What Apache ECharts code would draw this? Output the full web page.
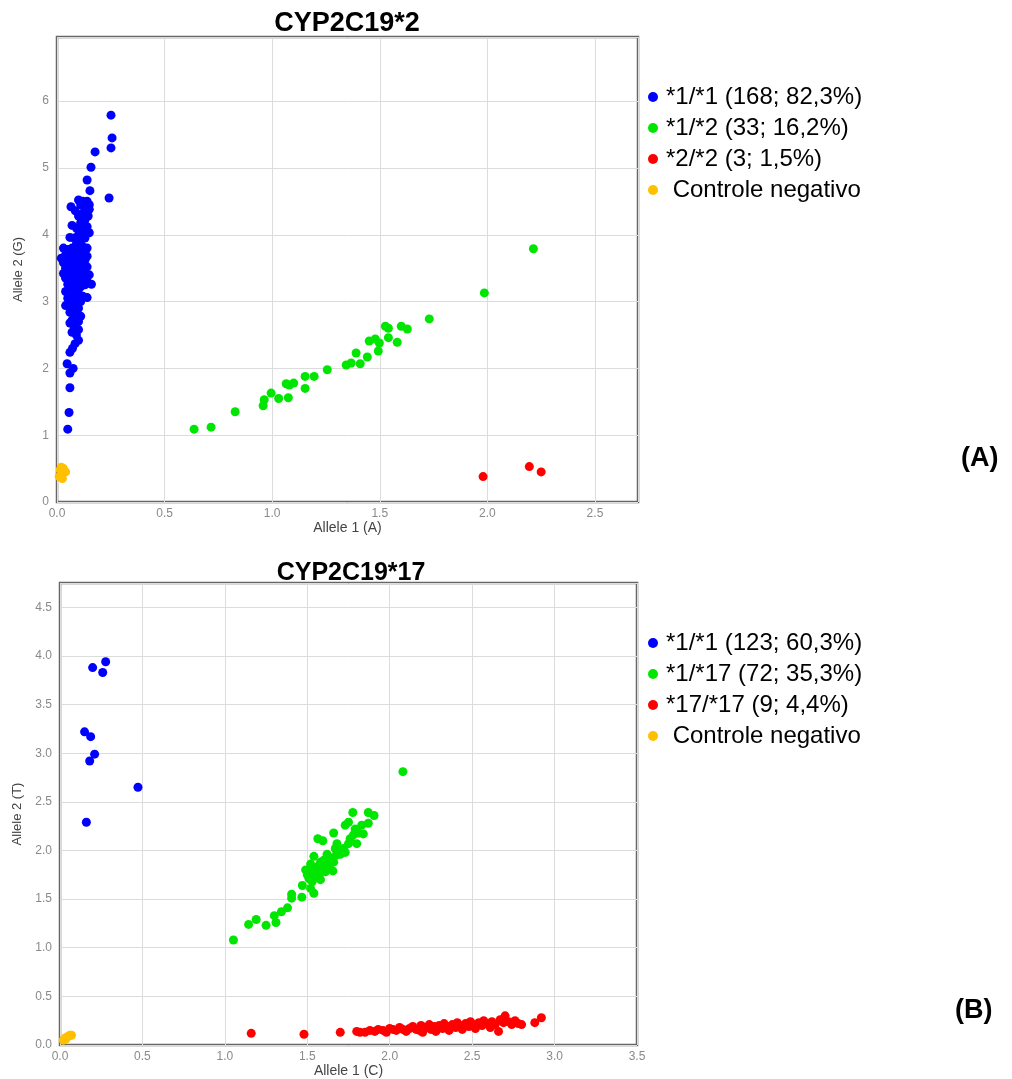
<!DOCTYPE html>
<html>
<head>
<meta charset="utf-8">
<script src="https://cdn.jsdelivr.net/npm/echarts@6/dist/echarts.min.js"></script>
<style>
  html, body { margin: 0; padding: 0; background: #fff; }
  #chart { width: 1012px; height: 1079px; }
</style>
</head>
<body>
<div id="chart"></div>
<script>
// CYP2C19*2 (A)
var namesA = ['*1/*1 (168; 82,3%)', '*1/*2 (33; 16,2%)', '*2/*2 (3; 1,5%)', ' Controle negativo'];
var blueA = [
  [0.251,5.79],[0.256,5.45],[0.251,5.30],[0.177,5.24],[0.158,5.01],[0.14,4.82],[0.153,4.66],[0.242,4.55],
  [0.10,4.52],[0.12,4.50],[0.14,4.50],[0.15,4.45],[0.11,4.45],[0.065,4.42],[0.085,4.36],[0.13,4.38],
  [0.15,4.38],[0.12,4.32],[0.145,4.28],[0.10,4.28],[0.13,4.22],[0.11,4.18],[0.07,4.14],[0.14,4.12],
  [0.09,4.10],[0.12,4.06],[0.15,4.03],[0.06,3.96],[0.10,4.00],[0.08,3.95],[0.13,3.95],[0.11,3.90],
  [0.09,3.86],[0.03,3.80],[0.05,3.78],[0.07,3.80],[0.12,3.82],[0.14,3.80],[0.02,3.65],[0.04,3.70],
  [0.06,3.72],[0.08,3.74],[0.10,3.76],[0.13,3.72],[0.03,3.58],[0.05,3.62],[0.07,3.64],[0.09,3.66],
  [0.11,3.66],[0.13,3.62],[0.14,3.68],[0.04,3.50],[0.06,3.54],[0.08,3.56],[0.10,3.56],[0.12,3.55],
  [0.14,3.52],[0.03,3.42],[0.05,3.45],[0.07,3.46],[0.09,3.48],[0.11,3.44],[0.13,3.42],[0.15,3.40],
  [0.04,3.35],[0.06,3.36],[0.08,3.38],[0.10,3.34],[0.12,3.32],[0.14,3.30],[0.16,3.26],[0.05,3.26],
  [0.07,3.28],[0.09,3.24],[0.11,3.22],[0.13,3.25],[0.04,3.15],[0.06,3.18],[0.08,3.16],[0.10,3.12],
  [0.12,3.08],[0.05,3.05],[0.07,3.06],[0.09,3.02],[0.11,3.00],[0.14,3.06],[0.04,2.94],[0.06,2.96],
  [0.08,2.92],[0.10,2.90],[0.06,2.84],[0.09,2.82],[0.11,2.78],[0.07,2.72],[0.10,2.70],[0.06,2.68],
  [0.08,2.62],[0.10,2.58],[0.07,2.54],[0.09,2.50],[0.10,2.42],[0.084,2.37],[0.072,2.30],[0.06,2.24],
  [0.047,2.07],[0.075,2.00],[0.06,1.93],[0.06,1.71],[0.056,1.34],[0.05,1.09]
];
var greenA = [
  [0.637,1.09],[0.716,1.12],[0.828,1.35],[0.958,1.44],[0.963,1.53],[0.995,1.63],[1.03,1.55],[1.065,1.77],
  [1.08,1.75],[1.075,1.56],[1.10,1.78],[1.153,1.88],[1.153,1.70],[1.195,1.88],[1.256,1.98],[1.344,2.05],
  [1.367,2.08],[1.39,2.23],[1.409,2.07],[1.442,2.17],[1.451,2.41],[1.479,2.44],[1.498,2.38],[1.493,2.26],
  [1.526,2.63],[1.54,2.60],[1.54,2.46],[1.581,2.39],[1.60,2.63],[1.628,2.59],[1.73,2.74],[1.986,3.13],
  [2.214,3.79]
];
var redA = [[1.98,0.38],[2.195,0.53],[2.25,0.45]];
var orangeA = [[0.02,0.52],[0.015,0.48],[0.04,0.45],[0.02,0.42],[0.025,0.35],[0.01,0.38],[0.03,0.50]];

// CYP2C19*17 (B)
var namesB = ['*1/*1 (123; 60,3%)', '*1/*17 (72; 35,3%)', '*17/*17 (9; 4,4%)', ' Controle negativo'];
var blueB = [
  [0.198,3.88],[0.277,3.94],[0.259,3.83],[0.149,3.22],[0.186,3.17],[0.21,2.99],[0.18,2.92],[0.473,2.65],
  [0.16,2.29]
];
var greenB = [
  [1.052,1.08],[1.144,1.24],[1.19,1.29],[1.25,1.23],[1.30,1.33],[1.31,1.26],[1.343,1.37],[1.38,1.41],
  [1.405,1.55],[1.405,1.51],[1.467,1.52],[1.47,1.64],[1.52,1.61],[1.54,1.56],[1.49,1.80],[1.52,1.78],
  [1.51,1.71],[1.54,1.72],[1.564,1.76],[1.56,1.83],[1.58,1.88],[1.54,1.94],[1.60,1.90],[1.62,1.86],
  [1.64,1.92],[1.655,1.79],[1.674,1.95],[1.564,2.12],[1.594,2.10],[1.66,2.18],[1.68,2.07],[1.69,2.00],
  [1.73,1.98],[1.75,2.07],[1.73,2.26],[1.75,2.29],[1.776,2.39],[1.78,2.16],[1.80,2.07],[1.81,2.18],
  [1.84,2.17],[1.87,2.39],[1.905,2.36],[1.87,2.28],[2.08,2.81],[1.50,1.75],[1.53,1.68],[1.55,1.80],
  [1.57,1.74],[1.59,1.82],[1.61,1.78],[1.63,1.84],[1.52,1.86],[1.58,1.70],[1.66,1.88],[1.70,1.96],
  [1.72,2.02],[1.76,2.12],[1.79,2.22],[1.83,2.26],[1.62,1.96],[1.67,2.02]
];
var redB = [
  [1.16,0.12],[1.48,0.11],[1.70,0.13],[1.80,0.14],[1.82,0.13],[1.85,0.13],[1.88,0.15],[1.91,0.14],
  [1.93,0.16],[1.96,0.15],[1.98,0.13],[2.00,0.17],[2.02,0.16],[2.04,0.15],[2.06,0.18],[2.08,0.16],
  [2.10,0.14],[2.12,0.17],[2.14,0.19],[2.16,0.16],[2.18,0.15],[2.19,0.20],[2.20,0.13],[2.22,0.18],
  [2.24,0.21],[2.25,0.16],[2.27,0.19],[2.28,0.14],[2.30,0.20],[2.32,0.17],[2.33,0.22],[2.35,0.19],
  [2.36,0.15],[2.38,0.21],[2.40,0.18],[2.41,0.23],[2.43,0.20],[2.44,0.16],[2.46,0.22],[2.48,0.19],
  [2.49,0.24],[2.51,0.21],[2.52,0.17],[2.54,0.23],[2.56,0.20],[2.57,0.25],[2.59,0.22],[2.61,0.18],
  [2.62,0.24],[2.64,0.21],[2.66,0.14],[2.67,0.26],[2.69,0.23],[2.70,0.30],[2.72,0.24],[2.74,0.21],
  [2.76,0.25],[2.78,0.22],[2.80,0.21],[2.88,0.23],[2.92,0.28]
];
var orangeB = [[0.02,0.05],[0.03,0.07],[0.04,0.08],[0.05,0.09],[0.06,0.10],[0.07,0.10],[0.035,0.06]];

var colors = ['#0000ff', '#00e600', '#ff0000', '#ffc000'];

function fmt1(v) { return v.toFixed(1); }

var chart = echarts.init(document.getElementById('chart'));

function xAx(idx, name, max, gap) {
  return {
    gridIndex: idx, type: 'value', min: 0, max: max, interval: 0.5,
    name: name, nameLocation: 'middle', nameGap: gap,
    nameTextStyle: { color: '#444', fontSize: 14, fontFamily: 'Liberation Sans' },
    axisLine: { show: false }, axisTick: { show: false },
    axisLabel: { color: '#8a8a8a', fontSize: 12, formatter: fmt1, showMaxLabel: max === 3.5, margin: 6 },
    splitLine: { lineStyle: { color: '#dcdcdc' } }
  };
}
function yAx(idx, name, max, interval, formatter) {
  return {
    gridIndex: idx, type: 'value', min: 0, max: max, interval: interval,
    name: name, nameLocation: 'middle', nameGap: 32,
    nameTextStyle: { color: '#444', fontSize: 13, fontFamily: 'Liberation Sans' },
    axisLine: { show: false }, axisTick: { show: false },
    axisLabel: { color: '#8a8a8a', fontSize: 12, formatter: formatter, showMaxLabel: false, margin: 8 },
    splitLine: { lineStyle: { color: '#dcdcdc' } }
  };
}
function sc(name, data, color, idx) {
  return {
    name: name, type: 'scatter', data: data, xAxisIndex: idx, yAxisIndex: idx,
    symbolSize: 9, itemStyle: { color: color, opacity: 1 }
  };
}
function legend(names, top) {
  return {
    data: names, orient: 'vertical', left: 643, top: top, icon: 'circle',
    itemWidth: 10, itemHeight: 10, itemGap: 5,
    textStyle: { color: '#000', fontSize: 24, fontFamily: 'Liberation Sans', lineHeight: 26, padding: [0, 0, 0, 3] }
  };
}

chart.setOption({
  animation: false,
  title: [
    { text: 'CYP2C19*2', left: 342, top: 5, textAlign: 'center',
      textStyle: { fontSize: 27, fontWeight: 'bold', color: '#000', fontFamily: 'Liberation Sans' } },
    { text: 'CYP2C19*17', left: 346, top: 556, textAlign: 'center',
      textStyle: { fontSize: 25, fontWeight: 'bold', color: '#000', fontFamily: 'Liberation Sans' } }
  ],
  legend: [legend(namesA, 79), legend(namesB, 625)],
  grid: [
    { left: 57, top: 37, width: 581, height: 465, show: true, borderColor: '#666', borderWidth: 2.5, backgroundColor: '#fff' },
    { left: 60, top: 583, width: 577, height: 462, show: true, borderColor: '#666', borderWidth: 2.5, backgroundColor: '#fff' }
  ],
  xAxis: [xAx(0, 'Allele 1 (A)', 2.7, 19), xAx(1, 'Allele 1 (C)', 3.5, 17)],
  yAxis: [
    yAx(0, 'Allele 2 (G)', 6.96, 1, function (v) { return String(v); }),
    yAx(1, 'Allele 2 (T)', 4.75, 0.5, fmt1)
  ],
  series: [
    sc(namesA[0], blueA, colors[0], 0),
    sc(namesA[1], greenA, colors[1], 0),
    sc(namesA[2], redA, colors[2], 0),
    sc(namesA[3], orangeA, colors[3], 0),
    sc(namesB[0], blueB, colors[0], 1),
    sc(namesB[1], greenB, colors[1], 1),
    sc(namesB[2], redB, colors[2], 1),
    sc(namesB[3], orangeB, colors[3], 1)
  ],
  graphic: [
    { type: 'text', left: 961, top: 445, style: { text: '(A)', fontSize: 27, fontWeight: 'bold', fill: '#000', fontFamily: 'Liberation Sans' } },
    { type: 'text', left: 955, top: 997, style: { text: '(B)', fontSize: 27, fontWeight: 'bold', fill: '#000', fontFamily: 'Liberation Sans' } }
  ]
});
</script>
</body>
</html>
